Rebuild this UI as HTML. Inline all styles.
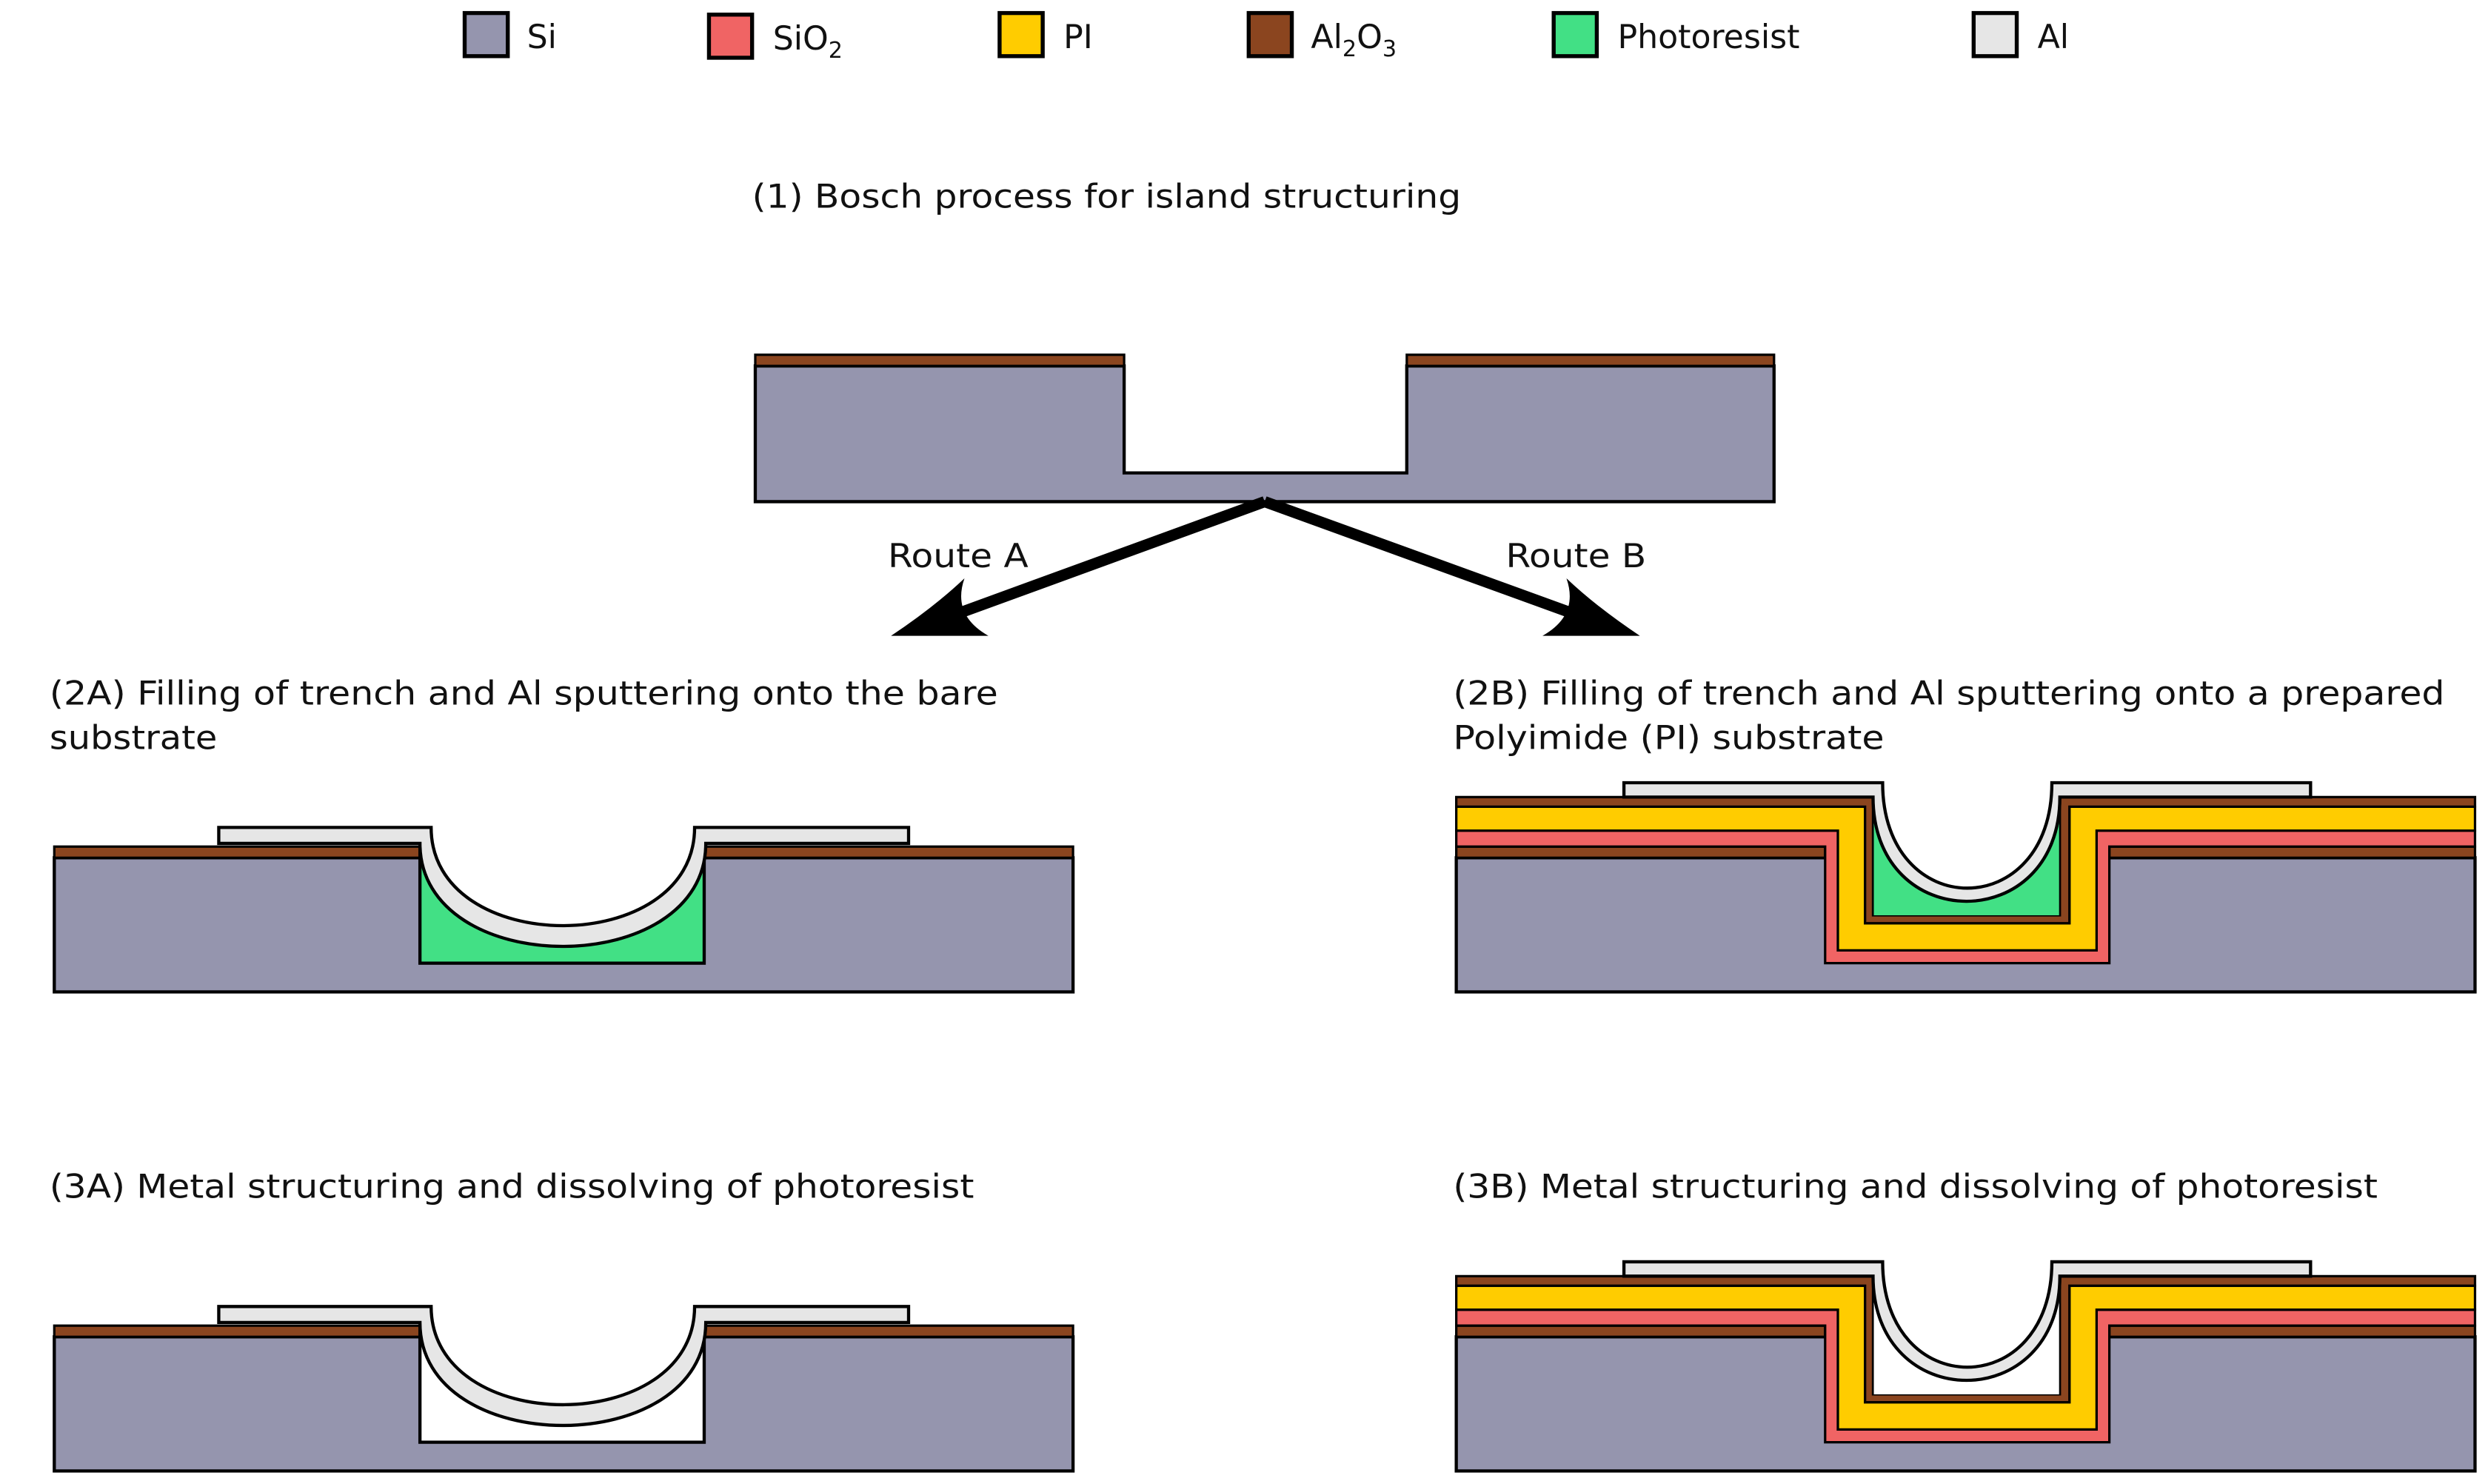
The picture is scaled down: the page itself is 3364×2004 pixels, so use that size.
<!DOCTYPE html>
<html><head><meta charset="utf-8"><style>
html,body{margin:0;padding:0;background:#fff;}
svg{display:block;}
text{font-family:"DejaVu Sans","Liberation Sans",sans-serif;font-size:20.5px;fill:#111;}
</style></head><body>
<svg width="3364" height="2004" viewBox="0 0 1560 929" xmlns="http://www.w3.org/2000/svg">
<defs>
<g id="alA">
<path d="M270,518 C270,600 435,600 435,518 Z" fill="#fff"/>
<path d="M137,518 H270 C270,600 435,600 435,518 H569 V528 H442 C442,614 263,614 263,528 H137 Z" fill="#e6e6e6" stroke="#000" stroke-width="2"/>
</g>
<g id="layB">
<rect x="912" y="537" width="638" height="84" fill="#9595ae" stroke="#000" stroke-width="2"/>
<rect x="912" y="530" width="231" height="7" fill="#8b451f" stroke="#000" stroke-width="1.5"/>
<rect x="1321" y="530" width="229" height="7" fill="#8b451f" stroke="#000" stroke-width="1.5"/>
<path d="M912,520 H1151 V595 H1313 V520 H1550 V530 H1321 V603 H1143 V530 H912 Z" fill="#f06464" stroke="#000" stroke-width="1.5"/>
<path d="M912,505 H1168 V578 H1296 V505 H1550 V520 H1313 V595 H1151 V520 H912 Z" fill="#ffcc00" stroke="#000" stroke-width="1.5"/>
<path d="M912,499 H1173 V573 H1290 V499 H1550 V505 H1296 V578 H1168 V505 H912 Z" fill="#8b451f" stroke="#000" stroke-width="1.5"/>
</g>
<g id="alB">
<path d="M1179,490 C1179,578 1285,578 1285,490 Z" fill="#fff"/>
<path d="M1017,490 H1179 C1179,578 1285,578 1285,490 H1447 V499 H1290 C1290,586 1173,586 1173,499 H1017 Z" fill="#e6e6e6" stroke="#000" stroke-width="2"/>
</g>
</defs>

<!-- legend -->
<rect x="291" y="8" width="27" height="27" fill="#9595ae" stroke="#000" stroke-width="2.5"/>
<text x="330" y="30">Si</text>
<rect x="444" y="9" width="27" height="27" fill="#f06464" stroke="#000" stroke-width="2.5"/>
<text x="484" y="31">SiO<tspan font-size="14" dy="5">2</tspan></text>
<rect x="626" y="8" width="27" height="27" fill="#ffcc00" stroke="#000" stroke-width="2.5"/>
<text x="666" y="30">PI</text>
<rect x="782" y="8" width="27" height="27" fill="#8b451f" stroke="#000" stroke-width="2.5"/>
<text x="821" y="30">Al<tspan font-size="14" dy="5">2</tspan><tspan dy="-5">O</tspan><tspan font-size="14" dy="5">3</tspan></text>
<rect x="973" y="8" width="27" height="27" fill="#42e085" stroke="#000" stroke-width="2.5"/>
<text x="1013" y="30">Photoresist</text>
<rect x="1236" y="8" width="27" height="27" fill="#e6e6e6" stroke="#000" stroke-width="2.5"/>
<text x="1276" y="30">Al</text>

<text x="471" y="130" textLength="444" lengthAdjust="spacingAndGlyphs">(1) Bosch process for island structuring</text>

<!-- step 1 -->
<path d="M473,229 H704 V296 H881 V229 H1111 V314 H473 Z" fill="#9595ae" stroke="#000" stroke-width="2"/>
<rect x="473" y="222" width="231" height="7" fill="#8b451f" stroke="#000" stroke-width="1.5"/>
<rect x="881" y="222" width="230" height="7" fill="#8b451f" stroke="#000" stroke-width="1.5"/>

<!-- arrows -->
<line x1="792" y1="314" x2="600" y2="384" stroke="#000" stroke-width="7"/>
<line x1="792" y1="314" x2="985" y2="384" stroke="#000" stroke-width="7"/>
<path d="M604,362 Q596,385 619,398 L558,398 Q585,380 604,362 Z" fill="#000"/>
<path d="M981,362 Q1000,380 1027,398 L966,398 Q989,385 981,362 Z" fill="#000"/>
<text x="556" y="355" textLength="88" lengthAdjust="spacingAndGlyphs">Route A</text>
<text x="943" y="355" textLength="88" lengthAdjust="spacingAndGlyphs">Route B</text>

<!-- 2A -->
<text x="31" y="441" textLength="594" lengthAdjust="spacingAndGlyphs">(2A) Filling of trench and Al sputtering onto the bare</text>
<text x="31" y="469" textLength="105" lengthAdjust="spacingAndGlyphs">substrate</text>
<rect x="34" y="537" width="638" height="84" fill="#9595ae" stroke="#000" stroke-width="2"/>
<rect x="34" y="530" width="229" height="7" fill="#8b451f" stroke="#000" stroke-width="1.5"/>
<rect x="441" y="530" width="231" height="7" fill="#8b451f" stroke="#000" stroke-width="1.5"/>
<rect x="263" y="530" width="178" height="73" fill="#42e085" stroke="#000" stroke-width="2"/>
<rect x="264" y="519" width="176" height="12" fill="#fff"/>
<use href="#alA"/>

<!-- 2B -->
<text x="910" y="441" textLength="621" lengthAdjust="spacingAndGlyphs">(2B) Filling of trench and Al sputtering onto a prepared</text>
<text x="910" y="469" textLength="270" lengthAdjust="spacingAndGlyphs">Polyimide (PI) substrate</text>
<use href="#layB"/>
<rect x="1173.5" y="499" width="116" height="74" fill="#42e085"/>
<use href="#alB"/>

<!-- 3A -->
<text x="31" y="750" textLength="579" lengthAdjust="spacingAndGlyphs">(3A) Metal structuring and dissolving of photoresist</text>
<g transform="translate(0,300)">
<rect x="34" y="537" width="638" height="84" fill="#9595ae" stroke="#000" stroke-width="2"/>
<rect x="34" y="530" width="229" height="7" fill="#8b451f" stroke="#000" stroke-width="1.5"/>
<rect x="441" y="530" width="231" height="7" fill="#8b451f" stroke="#000" stroke-width="1.5"/>
<rect x="263" y="530" width="178" height="73" fill="#fff" stroke="#000" stroke-width="2"/>
<rect x="264" y="518" width="176" height="14" fill="#fff"/>
<use href="#alA"/>
</g>

<!-- 3B -->
<text x="910" y="750" textLength="579" lengthAdjust="spacingAndGlyphs">(3B) Metal structuring and dissolving of photoresist</text>
<g transform="translate(0,300)">
<use href="#layB"/>
<rect x="1173.5" y="499" width="116" height="74" fill="#fff"/>
<use href="#alB"/>
</g>
</svg>
</body></html>
